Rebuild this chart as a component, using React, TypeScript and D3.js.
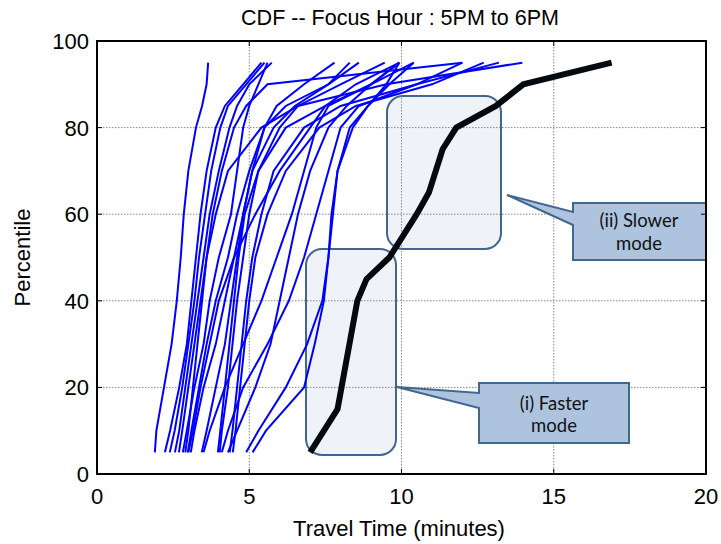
import React from 'react';
import * as d3 from 'd3';

// percentile levels each curve is sampled at
const levels = [5, 10, 20, 30, 40, 50, 60, 70, 80, 85, 90, 95];

// travel time (minutes) of each route at the levels above
const routes = [
  [1.9, 1.95, 2.2, 2.45, 2.62, 2.75, 2.85, 3.0, 3.25, 3.45, 3.6, 3.65],
  [2.23, 2.4, 2.7, 2.95, 3.1, 3.25, 3.4, 3.6, 3.9, 4.2, 4.8, 5.4],
  [2.39, 2.55, 2.8, 3.0, 3.2, 3.35, 3.55, 3.75, 4.05, 4.3, 4.9, 5.5],
  [2.56, 2.7, 2.9, 3.1, 3.3, 3.5, 3.7, 4.0, 4.35, 4.6, 5.0, 5.74],
  [2.69, 2.8, 3.0, 3.2, 3.4, 3.6, 3.9, 4.3, 5.4, 6.6, 9.5, 13.97],
  [2.82, 2.95, 3.2, 3.5, 3.7, 4.0, 4.4, 4.6, 4.8, 5.0, 5.3, 5.6],
  [2.98, 3.1, 3.35, 3.6, 3.9, 4.3, 4.6, 5.0, 5.5, 5.9, 6.8, 7.8],
  [3.08, 3.2, 3.5, 3.9, 4.2, 4.5, 4.8, 5.1, 5.5, 6.2, 7.6, 8.3],
  [3.44, 3.6, 3.9, 4.2, 4.4, 4.6, 4.8, 5.1, 5.8, 6.5, 7.6, 8.6],
  [3.97, 4.05, 4.2, 4.35, 4.5, 4.65, 4.85, 5.3, 6.0, 6.6, 8.0, 9.45],
  [4.03, 4.1, 4.3, 4.45, 4.6, 4.8, 5.0, 5.3, 6.2, 7.5, 9.0, 9.93],
  [4.36, 4.45, 4.6, 4.75, 4.9, 5.1, 5.4, 5.8, 6.8, 8.0, 10.5, 12.0],
  [4.46, 4.55, 4.7, 4.85, 5.0, 5.2, 5.6, 6.2, 7.3, 8.5, 11.0, 12.7],
  [5.11, 5.55, 6.8, 7.15, 7.45, 7.6, 7.75, 7.9, 8.3, 8.9, 9.6, 10.4],
  [3.0, 3.15, 3.4, 3.7, 4.0, 4.5, 5.2, 6.0, 7.0, 7.5, 8.5, 9.93],
  [3.5, 3.7, 4.2, 4.8, 5.4, 5.9, 6.4, 6.8, 7.2, 7.6, 9.0, 10.4],
  [4.1, 4.3, 4.8, 5.6, 6.3, 6.8, 7.2, 7.6, 8.0, 8.6, 10.5, 13.2],
  [2.9, 3.0, 3.15, 3.3, 3.45, 3.6, 3.8, 4.1, 4.5, 4.9, 5.6, 12.0],
  [4.9, 5.3, 6.2, 6.9, 7.4, 7.6, 7.7, 7.9, 8.4, 8.9, 9.5, 9.93],
  [4.3, 4.6, 5.2, 5.7, 6.0, 6.3, 6.6, 7.0, 7.6, 8.2, 9.0, 9.93],
];

// aggregate curve (black)
const aggLevels = [5, 15, 40, 45, 50, 60, 65, 75, 80, 85, 90, 95];
const aggTimes = [7.0, 7.9, 8.55, 8.85, 9.6, 10.5, 10.9, 11.35, 11.8, 13.1, 14.0, 16.9];

const xTicks = [0, 5, 10, 15, 20];
const yTicks = [0, 20, 40, 60, 80, 100];

const W = 721, H = 544;
const m = { left: 97, right: 15, top: 41, bottom: 70 };

export default function App() {
  const x = d3.scaleLinear().domain([0, 20]).range([m.left, W - m.right]);
  const y = d3.scaleLinear().domain([0, 100]).range([H - m.bottom, m.top]);
  const line = d3.line<[number, number]>().x(d => x(d[0])).y(d => y(d[1]));
  const font = 'Arial, "Liberation Sans", sans-serif';
  const x0 = x(0), x1 = x(20), y0 = y(0), y1 = y(100);

  return (
    <svg width={W} height={H} style={{ position: 'absolute', left: 0, top: 0 }}>
      <rect width={W} height={H} fill="#fff" />
      {/* highlight boxes (fill under the curves) */}
      <rect x={306} y={249} width={90} height={206} rx={16} fill="#eff3f8" />
      <rect x={387} y={96} width={114} height={153} rx={16} fill="#eff3f8" />
      {/* grid */}
      {xTicks.slice(1, -1).map(t => (
        <line key={'gx' + t} x1={x(t)} x2={x(t)} y1={y1} y2={y0} stroke="#888" strokeDasharray="1.5,1.5" />
      ))}
      {yTicks.slice(1, -1).map(t => (
        <line key={'gy' + t} x1={x0} x2={x1} y1={y(t)} y2={y(t)} stroke="#888" strokeDasharray="1.5,1.5" />
      ))}
      <rect x={306} y={249} width={90} height={206} rx={16} fill="none" stroke="#41678f" strokeWidth={2} />
      <rect x={387} y={96} width={114} height={153} rx={16} fill="none" stroke="#41678f" strokeWidth={2} />
      {/* routes */}
      {routes.map((r, i) => (
        <path key={i} d={line(r.map((v, j) => [v, levels[j]] as [number, number])) || ''}
          fill="none" stroke="#0000ff" strokeWidth={2} />
      ))}
      <path d={line(aggTimes.map((v, j) => [v, aggLevels[j]] as [number, number])) || ''}
        fill="none" stroke="#050a0f" strokeWidth={6} />
      {/* callouts */}
      <path d="M479,383 L629,383 L629,443 L479,443 L479,408 L397,387 L479,393 Z" fill="#adc3de" stroke="#41678f" strokeWidth={2} />
      <path d="M573,203 L706,203 L706,260 L573,260 L573,225 L507,195 L573,212 Z" fill="#adc3de" stroke="#41678f" strokeWidth={2} />
      <g fontFamily="Lato, 'Open Sans', sans-serif" fontSize={18.5} fill="#111" textAnchor="middle">
        <text x={554} y={410}>(i) Faster</text>
        <text x={554} y={432}>mode</text>
        <text x={639} y={227}>(ii) Slower</text>
        <text x={639} y={250}>mode</text>
      </g>
      {/* frame and ticks */}
      <rect x={x0} y={y1} width={x1 - x0} height={y0 - y1} fill="none" stroke="#000" strokeWidth={2} />
      {xTicks.map(t => (
        <g key={'tx' + t}>
          <line x1={x(t)} x2={x(t)} y1={y0} y2={y0 - 5} stroke="#000" />
          <line x1={x(t)} x2={x(t)} y1={y1} y2={y1 + 5} stroke="#000" />
          <text x={x(t)} y={504} textAnchor="middle" fontFamily={font} fontSize={22}>{t}</text>
        </g>
      ))}
      {yTicks.map(t => (
        <g key={'ty' + t}>
          <line x1={x0} x2={x0 + 5} y1={y(t)} y2={y(t)} stroke="#000" />
          <line x1={x1} x2={x1 - 5} y1={y(t)} y2={y(t)} stroke="#000" />
          <text x={89} y={y(t) + 8} textAnchor="end" fontFamily={font} fontSize={22}>{t}</text>
        </g>
      ))}
      <text x={400} y={25} textAnchor="middle" fontFamily={font} fontSize={21.5}>CDF -- Focus Hour : 5PM to 6PM</text>
      <text x={399} y={536} textAnchor="middle" fontFamily={font} fontSize={22}>Travel Time (minutes)</text>
      <text transform={`translate(30,${(y0 + y1) / 2}) rotate(-90)`} textAnchor="middle" fontFamily={font} fontSize={22}>Percentile</text>
    </svg>
  );
}
